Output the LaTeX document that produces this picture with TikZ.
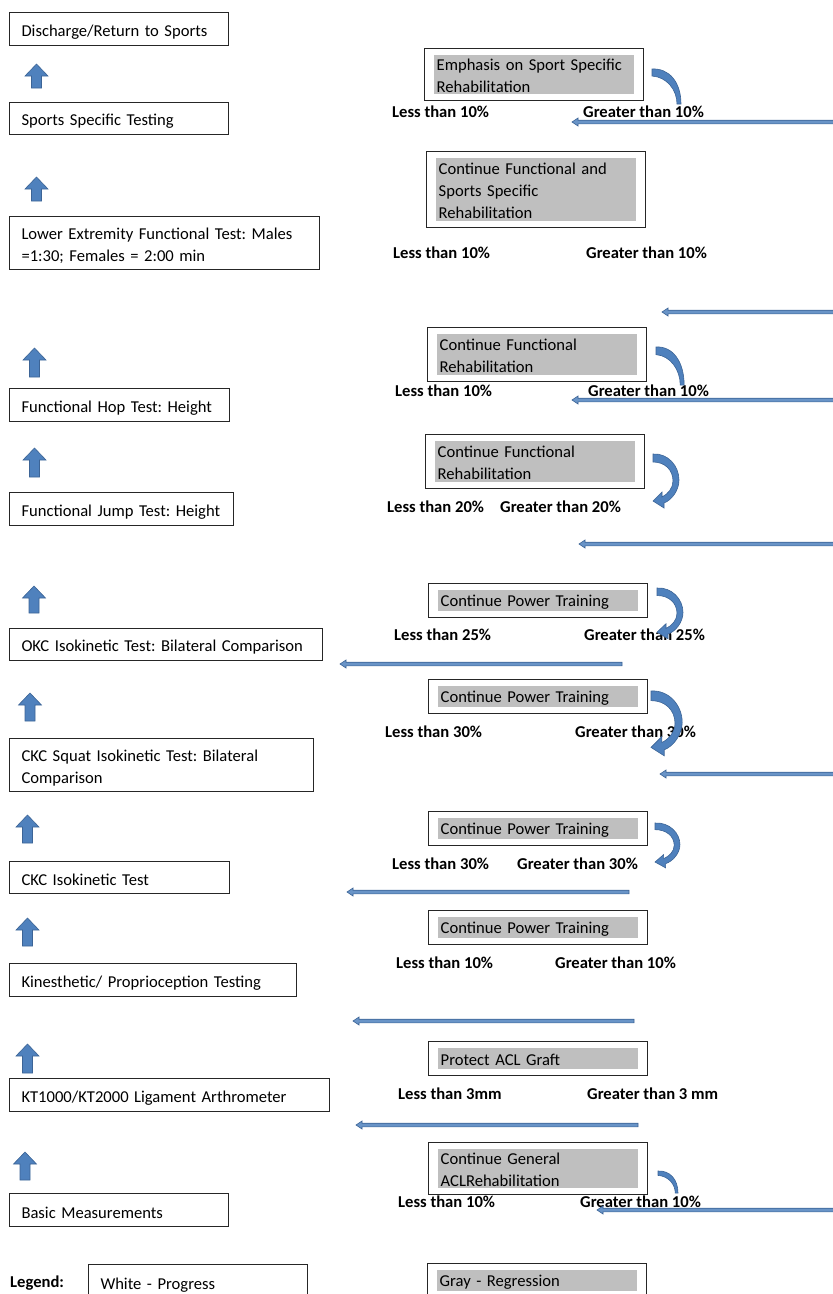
\documentclass[tikz,border=0pt]{standalone}
\usepackage{fontspec}
\setmainfont{Carlito}
\usetikzlibrary{fit}
\definecolor{arrowblue}{RGB}{79,129,189}
\definecolor{arrowedge}{RGB}{60,100,150}
\definecolor{regress}{RGB}{191,191,191}
\newcommand{\boxfont}{\frenchspacing\fontsize{16.6}{22}\selectfont}
\tikzset{
  leftbox/.style={draw=black!85, line width=1pt, inner xsep=12pt, inner ysep=1pt, text height=17pt, align=left, anchor=north west, font=\boxfont},
  regbox/.style={fill=regress, inner xsep=2.5pt, inner ysep=0pt, text height=14pt, text width=195pt, align=left, anchor=north west, font=\boxfont},
  outerline/.style={draw=black!85, line width=1pt, inner xsep=9.5pt, inner ysep=6.5pt},
  lbl/.style={font=\boxfont\bfseries, anchor=base west, inner sep=0pt},
  blockarrow/.style={fill=arrowblue, draw=arrowedge, line width=0.6pt},
  thinarrow/.style={fill=arrowblue!85, draw=arrowedge, line width=0.6pt},
}
% 向上箭头: 中心x, 顶端y, 高度
\newcommand{\uparr}[3]{\filldraw[blockarrow, shift={(#1,#2)}] (0,0) -- (11.5,12) -- (5,12) -- (5,#3) -- (-5,#3) -- (-5,12) -- (-11.5,12) -- cycle;}
% 向左细箭头: 箭尖x, 右端x, y
\newcommand{\backarr}[3]{\filldraw[thinarrow] (#1,#3) -- (#1+6,#3-4) -- (#1+6,#3-1.8) -- (#2,#3-1.8) -- (#2,#3+1.8) -- (#1+6,#3+1.8) -- (#1+6,#3+4) -- cycle;}
% 弯箭头
\newcommand{\curlarr}[4]{%
  \filldraw[blockarrow, shift={(#1,#2)}, xscale=#3, yscale=#4]
    (0,0) .. controls (15,-1) and (26,12) .. (26,26)
    .. controls (26,36) and (19,46) .. (11,49) -- (11,54) -- (0,47) -- (9,38) -- (9,43)
    .. controls (15,40) and (20,34) .. (20,27)
    .. controls (20,16) and (12,8) .. (0,8) -- cycle;}
\newcommand{\curlcut}[4]{%
  \filldraw[blockarrow, shift={(#1,#2)}, xscale=#3, yscale=#4]
    (0,0) .. controls (17,-1) and (29,13) .. (29,35) -- (25,35)
    .. controls (25,21) and (15,8) .. (0,7) -- cycle;}
\begin{document}
\begin{tikzpicture}[x=1pt, y=-1pt]
  \useasboundingbox (0,0) rectangle (833,1294);
  \clip (0,0) rectangle (833,1294);
  % 左侧测试框
  \node[leftbox, text width=195pt, minimum height=33pt] (b1) at (9,12) {Discharge/Return to Sports};
  \node[leftbox, text width=195pt, minimum height=32pt] (b2) at (9,102) {Sports Specific Testing};
  \node[leftbox, text width=286pt, minimum height=53pt] (b3) at (9,216) {Lower Extremity Functional Test: Males\\=1:30; Females = 2:00 min};
  \node[leftbox, text width=196pt, minimum height=33pt] (b4) at (9,388) {Functional Hop Test: Height};
  \node[leftbox, text width=200pt, minimum height=33pt] (b5) at (9,492) {Functional Jump Test: Height};
  \node[leftbox, text width=289pt, minimum height=32pt] (b6) at (9,628) {OKC Isokinetic Test: Bilateral Comparison};
  \node[leftbox, text width=280pt, minimum height=53pt] (b7) at (9,738) {CKC Squat Isokinetic Test: Bilateral\\Comparison};
  \node[leftbox, text width=196pt, minimum height=32pt] (b8) at (9,861) {CKC Isokinetic Test};
  \node[leftbox, text width=263pt, minimum height=33pt] (b9) at (9,963) {Kinesthetic/ Proprioception Testing};
  \node[leftbox, text width=296pt, minimum height=33pt] (b10) at (9,1078) {KT1000/KT2000 Ligament Arthrometer};
  \node[leftbox, text width=195pt, minimum height=33pt] (b11) at (9,1193) {Basic Measurements};
  % 图例
  \node[lbl] (legend) at (10,1287) {Legend:};
  \node[leftbox, text width=195pt, minimum height=36pt] (white) at (88,1264) {White - Progress};
  % 灰色框
  \node[regbox, minimum height=39pt] (g1) at (434,55) {Emphasis on Sport Specific\\Rehabilitation};
  \node[regbox, minimum height=63pt] (g2) at (436,158) {Continue Functional and\\Sports Specific\\Rehabilitation};
  \node[regbox, minimum height=41pt] (g3) at (437,334) {Continue Functional\\Rehabilitation};
  \node[regbox, minimum height=41pt] (g4) at (435,441) {Continue Functional\\Rehabilitation};
  \node[regbox, minimum height=21pt] (g5) at (438,590) {Continue Power Training};
  \node[regbox, minimum height=21pt] (g6) at (438,686) {Continue Power Training};
  \node[regbox, minimum height=21pt] (g7) at (438,818) {Continue Power Training};
  \node[regbox, minimum height=21pt] (g8) at (438,917) {Continue Power Training};
  \node[regbox, minimum height=21pt] (g9) at (438,1048) {Protect ACL Graft};
  \node[regbox, minimum height=39pt] (g10) at (438,1149) {Continue General\\ACLRehabilitation};
  \node[regbox, minimum height=21pt] (g11) at (437,1270) {Gray - Regression};
  \foreach \g in {1,...,11}
    \node[outerline, fit=(g\g)] (o\g) {};
  % 百分比标签
  \foreach \r/\y/\xa/\xb/\va/\vb in {1/117/392/583/10\%/10\%, 2/258/393/586/10\%/10\%,
      3/396/395/588/10\%/10\%, 4/512/387/500/20\%/20\%, 5/640/394/584/25\%/25\%,
      6/737/385/575/30\%/30\%, 7/869/392/517/30\%/30\%, 8/968/396/555/10\%/10\%,
      9/1099/398/587/3mm/{3 mm}, 10/1207/398/580/10\%/10\%}{
    \node[lbl] (lt\r) at (\xa,\y) {Less than \va};
    \node[lbl] (gt\r) at (\xb,\y) {Greater than \vb};
  }
  % 向上箭头
  \uparr{36.5}{64}{24}
  \uparr{36.5}{177}{24}
  \uparr{34.5}{348}{29}
  \uparr{34.5}{448}{29}
  \uparr{34}{586}{27}
  \uparr{30}{693}{28}
  \uparr{27.5}{815}{28}
  \uparr{27.5}{918}{28}
  \uparr{27.5}{1044}{29}
  \uparr{25}{1152}{28}
  % 向左箭头
  \backarr{572}{840}{122}
  \backarr{662}{840}{312}
  \backarr{572}{840}{400}
  \backarr{579}{840}{544}
  \backarr{340}{622}{664}
  \backarr{660}{840}{774}
  \backarr{347}{629}{892}
  \backarr{353}{634}{1021}
  \backarr{356}{638}{1125}
  \backarr{597}{840}{1210}
  % 弯箭头
  \curlcut{652}{69}{1}{1}
  \curlcut{656}{347}{0.97}{1.09}
  \curlarr{653}{454}{1}{1}
  \curlarr{657}{588}{1}{0.94}
  \curlarr{651}{691}{1.2}{1.2}
  \curlarr{655}{823}{0.96}{0.83}
  \curlcut{658}{1171}{0.69}{0.63}
\end{tikzpicture}
\end{document}
